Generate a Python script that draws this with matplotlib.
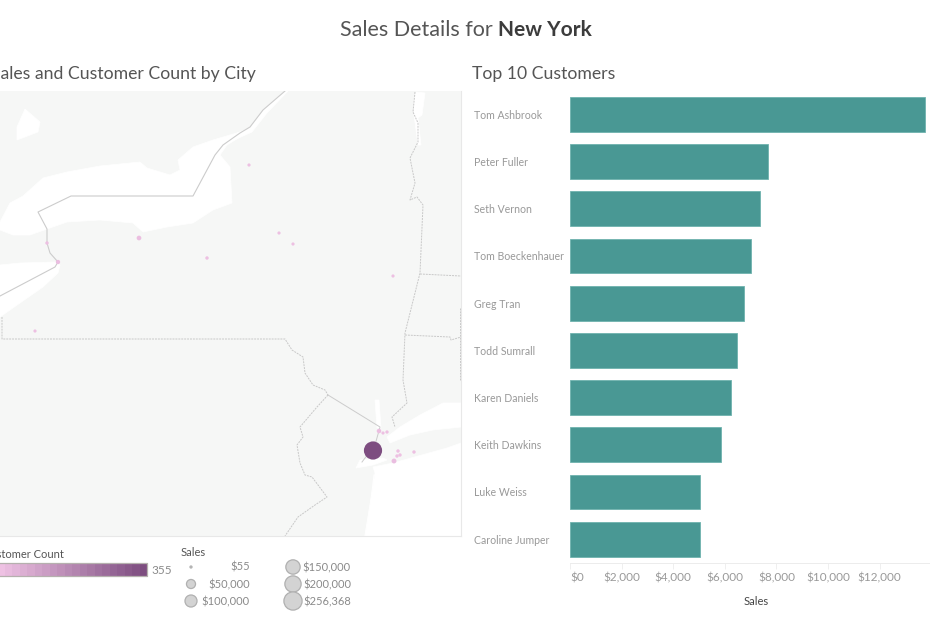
import numpy as np
import matplotlib
matplotlib.use("Agg")
import matplotlib.pyplot as plt
from matplotlib.colors import LinearSegmentedColormap
from matplotlib.patches import Polygon

plt.rcParams["font.family"] = ["Lato", "DejaVu Sans"]

# top 10 customers
customers = ["Tom Ashbrook", "Peter Fuller", "Seth Vernon", "Tom Boeckenhauer", "Greg Tran",
             "Todd Sumrall", "Karen Daniels", "Keith Dawkins", "Luke Weiss", "Caroline Jumper"]
customer_sales = [13760, 7680, 7370, 7015, 6725, 6490, 6240, 5850, 5040, 5020]
sales_ticks = [0, 2000, 4000, 6000, 8000, 10000, 12000]
sales_tick_labels = ["$0", "$2,000", "$4,000", "$6,000", "$8,000", "$10,000", "$12,000"]

# cities on the map, map units are reference pixels
city_x = [373, 139, 207, 58, 47, 35, 249, 279, 293, 393, 379, 383, 387, 398, 397, 400, 394, 414]
city_y = [450.5, 238, 258, 262, 243, 331, 165, 233, 244, 276, 431, 433, 432, 451, 456, 455, 461, 452]
city_sales = [256368, 8000, 2500, 6000, 2500, 1800, 1800, 1800, 1800, 1800, 7000, 1800, 2200, 2500, 2500, 2500, 9000, 2500]
city_count = [355, 12, 6, 10, 6, 4, 4, 4, 4, 4, 12, 4, 4, 6, 6, 6, 14, 6]

# size legend
legend_sales = [55, 50000, 100000, 150000, 200000, 256368]
legend_labels = ["$55", "$50,000", "$100,000", "$150,000", "$200,000", "$256,368"]

# water
lake_ontario = [(0, 222), (10, 203), (23, 196), (43, 178), (67, 172), (100, 166), (140, 162), (147, 168),
                (170, 175), (180, 170), (178, 160), (193, 147), (213, 140), (240, 132), (240, 137), (227, 145),
                (220, 155), (230, 167), (232, 203), (213, 210), (193, 223), (167, 227), (143, 232), (133, 223),
                (100, 220), (67, 222), (30, 235), (13, 235), (0, 230)]
lake_erie = [(0, 265), (20, 263), (55, 262), (60, 265), (58, 273), (43, 287), (20, 303), (0, 317)]
lake_simcoe = [(25, 109), (40, 122), (38, 132), (17, 140), (17, 127)]
upper_river = [(285, 91), (263, 110), (250, 128), (232, 135), (232, 141), (252, 132), (267, 113), (288, 91)]
champlain = [(416, 92), (425, 93), (422, 115), (418, 118), (421, 145), (418, 145), (414, 115), (414, 100)]
hudson = [(375, 400), (379, 400), (381, 428), (377, 428)]
sound = [(387, 437), (400, 427), (420, 415), (443, 403), (461, 403), (461, 427), (433, 430), (410, 435), (390, 443)]
harbor = [(356, 468), (360, 460), (383, 458), (387, 460), (373, 465)]
ocean = [(365, 536), (375, 473), (373, 467), (393, 463), (447, 448), (461, 443), (461, 536)]
water = [lake_ontario, lake_erie, lake_simcoe, upper_river, champlain, hudson, sound, harbor, ocean]

# borders
canada_border = [(285, 91), (263, 110), (250, 127), (240, 133), (223, 145), (215, 155), (193, 196), (71, 196),
                 (38, 212), (47, 229), (47, 243), (50, 253), (58, 262), (55, 267), (0, 296)]
state_borders = [
    [(2, 317), (2, 339), (285, 339), (292, 350), (303, 357), (305, 373), (313, 385), (325, 390), (328, 395)],
    [(328, 395), (317, 407), (300, 427), (303, 437), (297, 445), (300, 463), (305, 475), (312, 477), (327, 497),
     (315, 505), (298, 517), (285, 536)],
    [(415, 92), (413, 112), (418, 123), (418, 142), (410, 158), (415, 183), (410, 200), (417, 197), (423, 205),
     (420, 273), (405, 333), (403, 380), (407, 403), (392, 417), (395, 427)],
    [(420, 274), (461, 276)],
    [(405, 335), (450, 337), (451, 340), (461, 337)],
    [(460, 308), (460, 380)],
]
nj_border = [(328, 395), (380, 427), (375, 445), (362, 462)]
coast = [(365, 536), (371, 500), (374, 475)]


def radius(v):
    return 0.9 + 8.2 * np.sqrt(v / 256368)


def area(v):
    # scatter wants points^2, radius is in pixels at dpi 100
    return (2 * radius(v) * 0.72) ** 2


fig = plt.figure(figsize=(9.3, 6.2), dpi=100, facecolor="white")

# overlay in pixel coordinates for titles and legends
page = fig.add_axes([0, 0, 1, 1])
page.set_xlim(0, 930)
page.set_ylim(620, 0)
page.axis("off")

page.text(498, 30, "Sales Details for ", ha="right", va="center", fontsize=15.5, color="#555555")
page.text(498, 30, "New York", ha="left", va="center", fontsize=15, color="#3c3c3c", fontweight="bold")
page.text(256, 73.5, "Sales and Customer Count by City", ha="right", va="center", fontsize=12.7, color="#555555")
page.text(472, 73.5, "Top 10 Customers", ha="left", va="center", fontsize=12.7, color="#555555")

# map
ax = fig.add_axes([0, (620 - 536) / 620, 461 / 930, 445 / 620])
ax.set_xlim(0, 461)
ax.set_ylim(536, 91)
ax.set_facecolor("#f6f7f6")
for s in ax.spines.values():
    s.set_visible(False)
ax.spines["right"].set_visible(True)
ax.spines["right"].set_color("#e8e8e8")
ax.spines["bottom"].set_visible(True)
ax.spines["bottom"].set_color("#e8e8e8")
ax.set_xticks([])
ax.set_yticks([])
for poly in water:
    ax.add_patch(Polygon(poly, closed=True, fc="white", ec="white", lw=0.5, zorder=1))

ax.plot(*zip(*canada_border), color="#cccccc", lw=0.8, zorder=2)
ax.plot(*zip(*nj_border), color="#cccccc", lw=0.7, zorder=2)
ax.plot(*zip(*coast), color="white", lw=0.8, zorder=2)
for line in state_borders:
    ax.plot(*zip(*line), color="#c8c8c8", lw=0.7, ls=(0, (2, 1)), zorder=2)

cmap = LinearSegmentedColormap.from_list("cust", ["#eec1e3", "#7d4d80"])
ax.scatter(city_x, city_y, s=[area(v) for v in city_sales],
           c=np.array(city_count), cmap=cmap, vmin=1, vmax=355, lw=0, zorder=3)

# colour legend
page.text(64, 554.5, "Customer Count", ha="right", va="center", fontsize=8, color="#555555")
steps = np.linspace(0, 1, 20)
edges = np.linspace(-3, 147, 21)
page.pcolormesh(edges, [562.5, 576], steps[np.newaxis, :], cmap=cmap, vmin=0, vmax=1, shading="flat")
page.plot([-3, 147, 147, -3], [562.5, 562.5, 576, 576], color="#b5b0ae", lw=0.9)
page.text(151, 570.5, "355", ha="left", va="center", fontsize=8.5, color="#8a8a8a")

# size legend
page.text(181, 552.5, "Sales", ha="left", va="center", fontsize=8, color="#555555")
legend_x = [191, 191, 191, 293, 293, 293]
legend_y = [567, 584, 601, 567, 584, 601]
page.scatter(legend_x, legend_y, s=[area(v) for v in legend_sales],
             fc="#d3d3d3", ec="#b0b0b0", lw=0.9, clip_on=False)
for i, lab in enumerate(legend_labels):
    tx = 250 if i < 3 else 351
    page.text(tx, legend_y[i] + 0.5, lab, ha="right", va="center", fontsize=8, color="#8a8a8a")

# bars
bx = fig.add_axes([570 / 930, (620 - 562.8) / 620, 360 / 930, 472 / 620])
y = np.arange(len(customers))
bx.barh(y, customer_sales, height=0.74, color="#499894", edgecolor="#6fb3ae", linewidth=0.6)
bx.set_ylim(len(customers) - 0.5, -0.5)
bx.set_xlim(0, 360 / 0.0258)
bx.set_yticks(y)
bx.set_yticklabels(customers, fontsize=7.6, color="#999999")
bx.tick_params(axis="y", length=0, pad=69)
for lab in bx.get_yticklabels():
    lab.set_ha("left")
bx.set_xticks(sales_ticks)
bx.set_xticklabels(sales_tick_labels, fontsize=8.5, color="#999999")
bx.tick_params(axis="x", length=4, width=0.6, color="#ececec", pad=3, direction="out")
bx.get_xticklabels()[0].set_ha("left")
bx.set_xlabel("Sales", fontsize=8, color="#444444", labelpad=5)
bx.xaxis.set_label_coords((756 - 570) / 360, -0.0705)
for name in ["top", "right", "left"]:
    bx.spines[name].set_visible(False)
bx.spines["bottom"].set_color("#ececec")
bx.spines["bottom"].set_linewidth(0.7)

fig.savefig("out.png", dpi=100)
